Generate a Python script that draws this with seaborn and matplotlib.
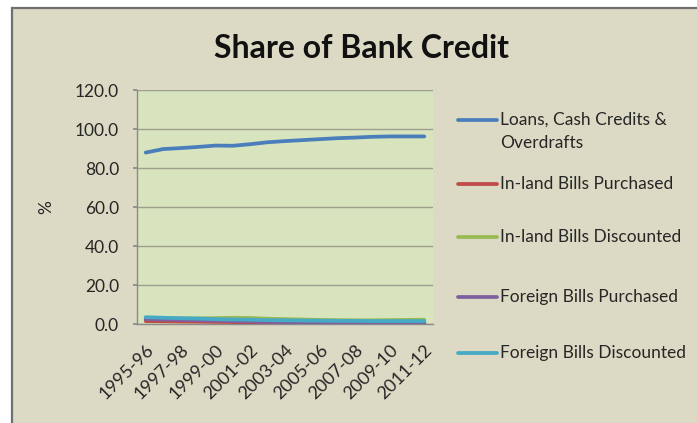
import matplotlib
matplotlib.use("Agg")
import matplotlib.pyplot as plt
from matplotlib.patches import Rectangle
from matplotlib.lines import Line2D
import numpy as np
import pandas as pd
import seaborn as sns

# Financial years
years = ["1995-96", "1996-97", "1997-98", "1998-99", "1999-00", "2000-01",
         "2001-02", "2002-03", "2003-04", "2004-05", "2005-06", "2006-07",
         "2007-08", "2008-09", "2009-10", "2010-11", "2011-12"]

# Share of total bank credit (%)
loans_cash_credits = [88.1, 89.9, 90.4, 91.0, 91.7, 91.6, 92.4, 93.4, 94.0,
                      94.5, 95.0, 95.5, 95.8, 96.2, 96.4, 96.4, 96.4]
inland_purchased = [1.5, 1.4, 1.3, 1.2, 1.1, 1.0, 0.9, 0.8, 0.7, 0.7, 0.6,
                    0.6, 0.5, 0.5, 0.5, 0.5, 0.5]
inland_discounted = [3.0, 2.8, 2.8, 2.9, 3.0, 3.2, 3.1, 2.7, 2.5, 2.3, 2.1,
                     2.0, 1.9, 1.9, 2.0, 2.1, 2.2]
foreign_purchased = [2.5, 2.3, 2.1, 1.9, 1.7, 1.5, 1.3, 1.1, 1.0, 0.9, 0.9,
                     0.8, 0.8, 0.8, 0.7, 0.7, 0.7]
foreign_discounted = [3.5, 3.2, 3.0, 2.8, 2.5, 2.3, 2.2, 2.0, 1.9, 1.8, 1.7,
                      1.6, 1.6, 1.5, 1.5, 1.5, 1.5]

series_names = ["Loans, Cash Credits &\nOverdrafts", "In-land Bills Purchased",
                "In-land Bills Discounted", "Foreign Bills Purchased",
                "Foreign Bills Discounted"]
series_values = [loans_cash_credits, inland_purchased, inland_discounted,
                 foreign_purchased, foreign_discounted]
colors = ["#4A7EBB", "#BE4B48", "#98B954", "#7D60A0", "#46AAC5"]

y_ticks = [0, 20, 40, 60, 80, 100, 120]

rows = []
for name, vals in zip(series_names, series_values):
    for i, v in enumerate(vals):
        rows.append({"pos": i, "year": years[i], "series": name, "share": v})
df = pd.DataFrame(rows)

sns.set_theme(style="white")
plt.rcParams["font.family"] = ["Lato", "DejaVu Sans"]

W, H = 697, 423
fig = plt.figure(figsize=(W / 100, H / 100), dpi=100, facecolor="white")

# slide-style frame behind the chart
fig.patches.append(Rectangle((11.5 / W, -0.05), 1.2, 1.05 - 8.5 / H,
                             transform=fig.transFigure, facecolor="#DCDAC4",
                             edgecolor="#6f6f6f", lw=1.6, zorder=-5))

ax = fig.add_axes([137 / W, 1 - 324 / H, 296 / W, (324 - 90.5) / H])
ax.set_facecolor("#D8E4BE")

sns.lineplot(data=df, x="pos", y="share", hue="series", hue_order=series_names,
             palette=colors, lw=2.7, legend=False, ax=ax, zorder=3)

ax.set_xlim(-0.5, len(years) - 0.5)
ax.set_ylim(0, 120)
ax.set_yticks(y_ticks)
ax.set_yticklabels([f"{t:.1f}" for t in y_ticks])
ax.yaxis.grid(True, color="#9c9e8e", lw=1.0)
ax.set_axisbelow(True)

tick_pos = list(range(0, len(years), 2))
ax.set_xticks(tick_pos)
ax.set_xticklabels([years[i] for i in tick_pos], rotation=45, ha="right",
                   va="top", rotation_mode="anchor")
ax.tick_params(axis="x", length=0, pad=13, labelsize=13, labelcolor="#262626")
ax.tick_params(axis="y", length=3, pad=10, labelsize=12.5, labelcolor="#262626",
               left=True, color="#8a8a8a")

for side in ("top", "right"):
    ax.spines[side].set_visible(False)
for side in ("left", "bottom"):
    ax.spines[side].set_color("#8a8a8a")
    ax.spines[side].set_linewidth(1.0)

ax.set_xlabel("")
ax.set_ylabel("%", fontsize=12.5, color="#262626")
ax.yaxis.set_label_coords(-0.28, 0.5)

fig.suptitle("Share of Bank Credit", x=361 / W, y=1 - 48 / H, va="center",
             fontsize=23, fontweight="bold", color="#111111")

# legend on the right
legend_y = [120, 184, 237, 297, 353]
for name, col, ypx in zip(series_names, colors, legend_y):
    yf = 1 - ypx / H
    fig.add_artist(Line2D([458 / W, 497 / W], [yf, yf], color=col, lw=2.7,
                          transform=fig.transFigure))
    first_line, *rest = name.split("\n")
    fig.text(500 / W, yf, first_line, va="center", ha="left", fontsize=12.5,
             color="#262626")
    for k, extra in enumerate(rest, start=1):
        fig.text(500 / W, 1 - (ypx + 23 * k) / H, extra, va="center", ha="left",
                 fontsize=12.5, color="#262626")

fig.savefig("out.png", dpi=100, facecolor="white")
